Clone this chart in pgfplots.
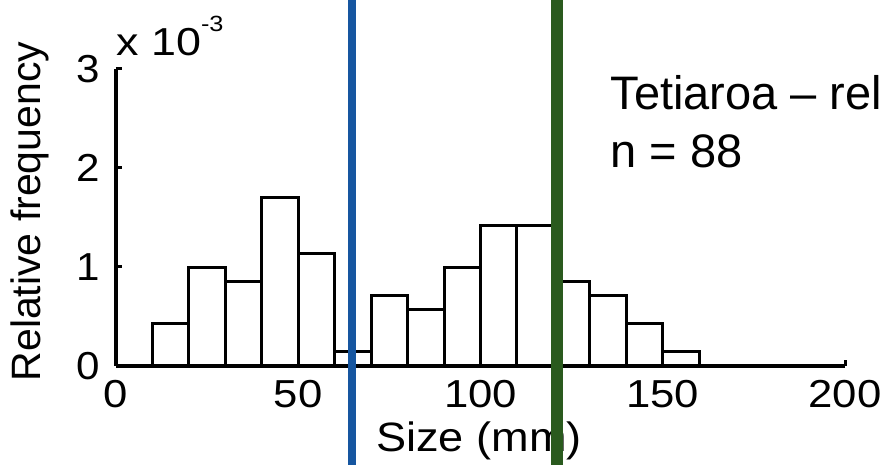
\documentclass[border=0pt]{standalone}
\usepackage{pgfplots}
\pgfplotsset{compat=1.18}
\usepackage{fontspec}
\setmainfont{Liberation Sans}
\definecolor{lineblue}{RGB}{22,86,160}
\definecolor{linegreen}{RGB}{42,90,30}
\begin{document}
\begin{tikzpicture}
\useasboundingbox (0,0) rectangle (888pt,465pt);
\begin{axis}[
  at={(116pt,99pt)}, anchor=south west,
  scale only axis, width=729pt, height=297pt,
  xmin=0, xmax=200, ymin=0, ymax=3,
  axis lines=left,
  axis line style={-, line width=3.5pt, black},
  xtick={0,50,100,150,200},
  ytick={0,1,2,3},
  tick align=inside,
  major tick length=6pt,
  tick style={line width=3pt, black},
  /pgf/number format/assume math mode=true,
  tick label style={font=\fontsize{39}{44}\selectfont},
  xticklabel style={anchor=north, inner sep=0pt, yshift=-14pt, xscale=1.12},
  yticklabel style={anchor=east, inner sep=0pt, xshift=-16pt, xscale=1.08},
  xlabel={Size (mm)},
  ylabel={Relative frequency},
  label style={font=\fontsize{41}{46}\selectfont},
  xlabel style={at={(axis description cs:0.498,-0.252)}, anchor=center, xscale=1.1},
  ylabel style={at={(axis description cs:-0.118,0.52)}, anchor=center},
  clip=false,
]
\addplot[ybar interval, fill=white, draw=black, line width=3pt] coordinates {
  (10,0.426) (20,0.994) (30,0.852) (40,1.705) (50,1.136) (60,0.142)
  (70,0.710) (80,0.568) (90,0.994) (100,1.420) (110,1.420) (120,0.852)
  (130,0.710) (140,0.426) (150,0.142) (160,0.142)
};
\node[anchor=base west, inner sep=0pt, font=\fontsize{39}{44}\selectfont, xscale=1.15] at (axis cs:0.0,3.14)
  {x 10\raisebox{24pt}{\fontsize{22}{24}\selectfont -3}};
\node[anchor=base west, inner sep=0pt, font=\fontsize{47}{52}\selectfont] at (axis cs:135.6,2.586) {Tetiaroa – rel};
\node[anchor=base west, inner sep=0pt, font=\fontsize{47}{52}\selectfont] at (axis cs:135.6,2.01) {n = 88};
\end{axis}
\begin{axis}[
  at={(116pt,99pt)}, anchor=south west,
  scale only axis, width=729pt, height=297pt,
  xmin=0, xmax=200, ymin=0, ymax=3,
  hide axis, clip=false,
]
\addplot[lineblue, line width=8pt] coordinates {(64.7,-1.05) (64.7,3.75)};
\addplot[linegreen, line width=12pt] coordinates {(121.0,-1.05) (121.0,3.75)};
\end{axis}
\end{tikzpicture}
\end{document}
